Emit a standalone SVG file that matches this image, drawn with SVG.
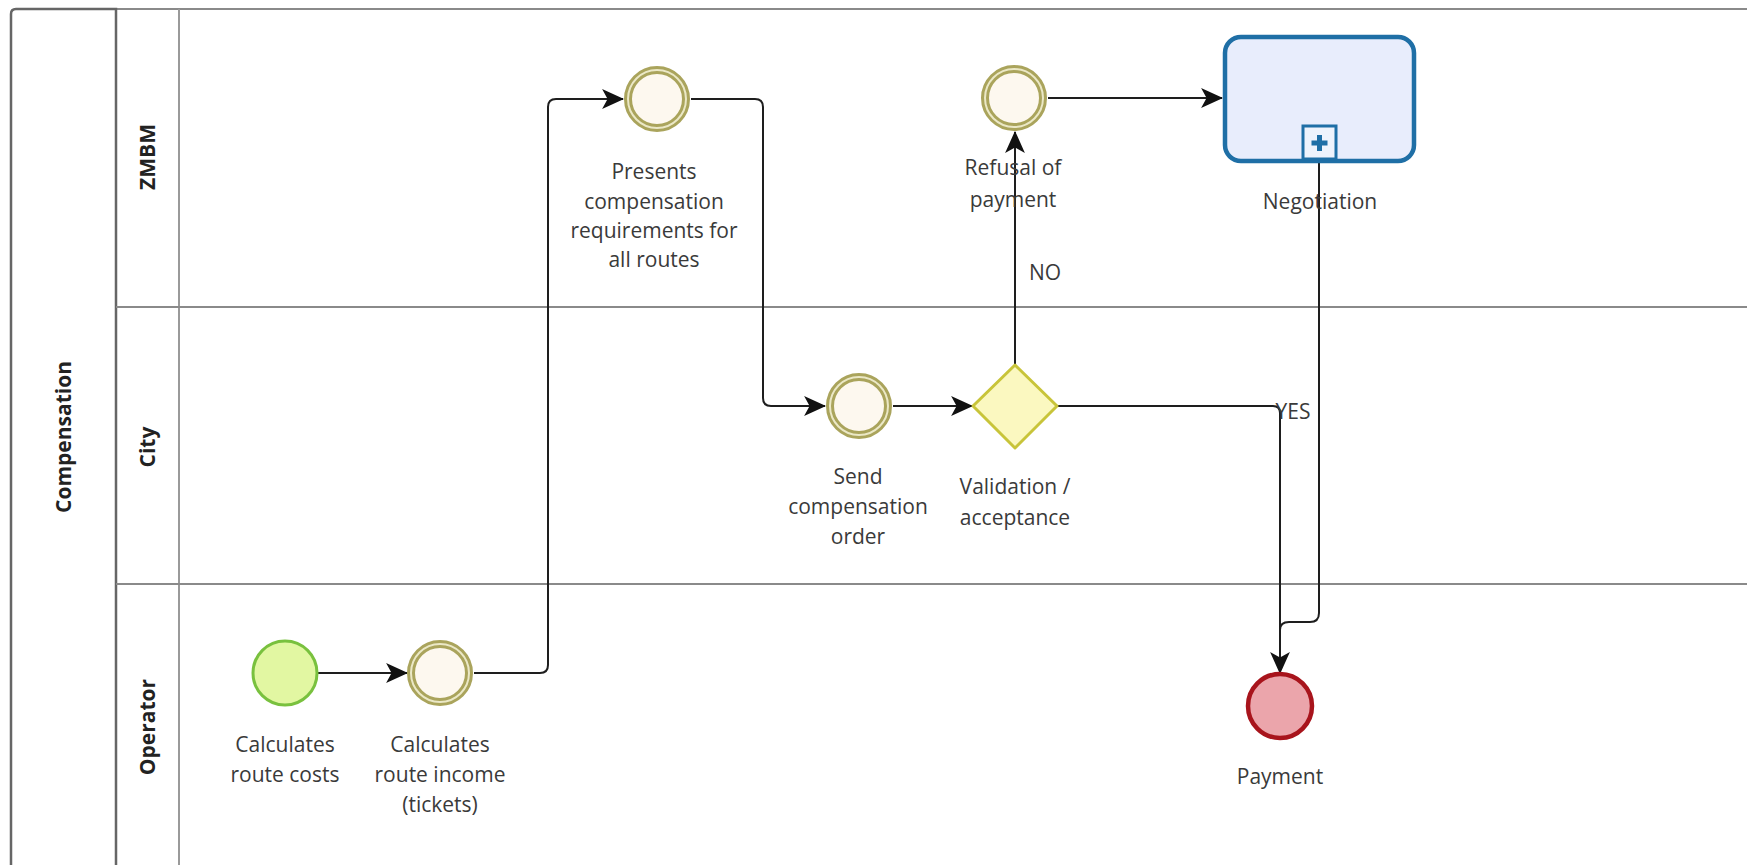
<svg xmlns="http://www.w3.org/2000/svg" width="1747" height="865" viewBox="0 0 1747 865">
  <style>
    .lbl { font-family: "Open Sans", "Noto Sans", "DejaVu Sans", sans-serif; font-size: 21px; fill: #3a3a3a; text-anchor: middle; }
    .lane-lbl { font-family: "Open Sans", "Noto Sans", "DejaVu Sans", sans-serif; font-size: 21px; font-weight: bold; fill: #222; text-anchor: middle; }
    .flow { fill: none; stroke: #1e1e1e; stroke-width: 2; }
    .ie-outer { fill: #fdf8ef; stroke: #aaa45c; stroke-width: 8; }
    .ie-gap { fill: none; stroke: #ebe8c6; stroke-width: 2; }
  </style>
  <defs>
    <marker id="arrow" markerUnits="userSpaceOnUse" markerWidth="22" markerHeight="22" viewBox="0 0 20 20" refX="19" refY="10" orient="auto">
      <path d="M0,1 L20,10 L0,19 L5,10 z" fill="#111"/>
    </marker>
  </defs>

  <rect width="1747" height="865" fill="#fff"/>

  <!-- pool and lanes -->
  <g id="pool">
    <line x1="116" y1="9" x2="1747" y2="9" stroke="#8a8a8a" stroke-width="2"/>
    <path d="M116,880 V9 H16 Q11,9 11,14 V880" fill="none" stroke="#666" stroke-width="2.5"/>
    <line x1="179" y1="9" x2="179" y2="880" stroke="#9a9a9a" stroke-width="2"/>
    <line x1="116" y1="307" x2="1747" y2="307" stroke="#8a8a8a" stroke-width="1.8"/>
    <line x1="116" y1="584" x2="1747" y2="584" stroke="#8a8a8a" stroke-width="1.8"/>
    <text class="lane-lbl" transform="translate(71,437) rotate(-90)">Compensation</text>
    <text class="lane-lbl" transform="translate(155,157) rotate(-90)">ZMBM</text>
    <text class="lane-lbl" transform="translate(155,447) rotate(-90)">City</text>
    <text class="lane-lbl" transform="translate(155,727) rotate(-90)">Operator</text>
  </g>

  <!-- sequence flows -->
  <g id="connectors">
    <path class="flow" d="M318,673 H407" marker-end="url(#arrow)"/>
    <path class="flow" d="M474,673 H540 Q548,673 548,665 V107 Q548,99 556,99 H623" marker-end="url(#arrow)"/>
    <path class="flow" d="M691,99 H755 Q763,99 763,107 V398 Q763,406 771,406 H825" marker-end="url(#arrow)"/>
    <path class="flow" d="M893,406 H972" marker-end="url(#arrow)"/>
    <path class="flow" d="M1015,364 V132" marker-end="url(#arrow)"/>
    <path class="flow" d="M1048,98 H1222" marker-end="url(#arrow)"/>
    <path class="flow" d="M1058,406 H1273 Q1280,406 1280,413 V673" marker-end="url(#arrow)"/>
    <path class="flow" d="M1319,162 V613 Q1319,622 1310,622 H1289 Q1280,622 1280,630"/>
    <text class="lbl" x="1045" y="280">NO</text>
    <text class="lbl" x="1293" y="419">YES</text>
  </g>

  <g id="start-route-costs">
    <circle cx="285" cy="673" r="32" fill="#e2f7a2" stroke="#79c13e" stroke-width="3"/>
    <text class="lbl" x="285" y="752">Calculates</text>
    <text class="lbl" x="285" y="782">route costs</text>
  </g>

  <g id="route-income">
    <circle class="ie-outer" cx="440" cy="673" r="29"/>
    <circle class="ie-gap" cx="440" cy="673" r="29"/>
    <text class="lbl" x="440" y="752">Calculates</text>
    <text class="lbl" x="440" y="782">route income</text>
    <text class="lbl" x="440" y="812">(tickets)</text>
  </g>

  <g id="present-requirements">
    <circle class="ie-outer" cx="657" cy="99" r="29"/>
    <circle class="ie-gap" cx="657" cy="99" r="29"/>
    <text class="lbl" x="654" y="179">Presents</text>
    <text class="lbl" x="654" y="209">compensation</text>
    <text class="lbl" x="654" y="238">requirements for</text>
    <text class="lbl" x="654" y="267">all routes</text>
  </g>

  <g id="send-order">
    <circle class="ie-outer" cx="859" cy="406" r="29"/>
    <circle class="ie-gap" cx="859" cy="406" r="29"/>
    <text class="lbl" x="858" y="484">Send</text>
    <text class="lbl" x="858" y="514">compensation</text>
    <text class="lbl" x="858" y="544">order</text>
  </g>

  <g id="validation-gateway">
    <path d="M1015,365 L1057,406 L1015,448 L973,406 z" fill="#fbf8c0" stroke="#c8c43a" stroke-width="3" stroke-linejoin="round"/>
    <text class="lbl" x="1015" y="494">Validation /</text>
    <text class="lbl" x="1015" y="525">acceptance</text>
  </g>

  <g id="refusal">
    <circle class="ie-outer" cx="1014" cy="98" r="29"/>
    <circle class="ie-gap" cx="1014" cy="98" r="29"/>
    <text class="lbl" x="1013" y="175">Refusal of</text>
    <text class="lbl" x="1013" y="207">payment</text>
  </g>

  <g id="negotiation">
    <rect x="1225" y="37" width="189" height="124" rx="16" fill="#e8edfc" stroke="#1f6fa6" stroke-width="4.5"/>
    <rect x="1303" y="126" width="33" height="33" fill="#eef3fc" stroke="#1f6fa6" stroke-width="3"/>
    <path d="M1319.5,135 V151 M1311.5,143 H1327.5" stroke="#1f6fa6" stroke-width="5"/>
    <text class="lbl" x="1320" y="209">Negotiation</text>
  </g>

  <g id="payment">
    <circle cx="1280" cy="706" r="32" fill="#eba5ab" stroke="#a8141c" stroke-width="4.5"/>
    <text class="lbl" x="1280" y="784">Payment</text>
  </g>
</svg>
